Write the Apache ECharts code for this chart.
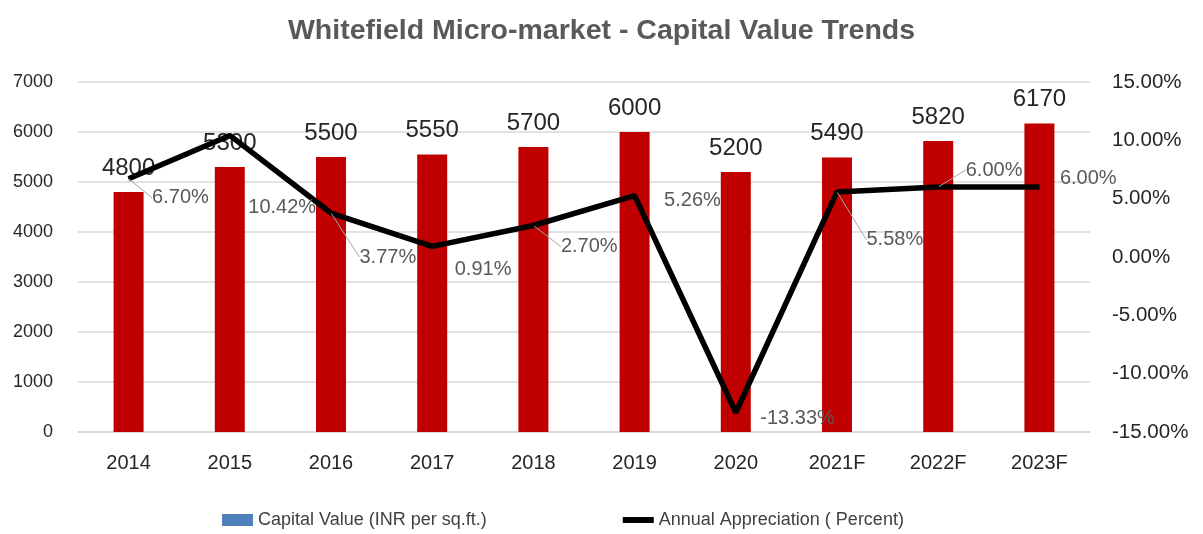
<!DOCTYPE html>
<html>
<head>
<meta charset="utf-8">
<script src="https://cdn.jsdelivr.net/npm/echarts@6/dist/echarts.min.js"></script>
<style>
  html, body { margin: 0; padding: 0; background: #fff; }
  #chart { width: 1203px; height: 534px; }
</style>
</head>
<body>
<div id="chart"></div>
<script>
// chart data
var years = ['2014', '2015', '2016', '2017', '2018', '2019', '2020', '2021F', '2022F', '2023F'];
var capitalValue = [4800, 5300, 5500, 5550, 5700, 6000, 5200, 5490, 5820, 6170];
var appreciation = [6.70, 10.42, 3.77, 0.91, 2.70, 5.26, -13.33, 5.58, 6.00, 6.00];

// where each % label sits relative to its point (dx, dy), and whether a leader line shows
var labelShift = [[18, 19], [13, 72], [23, 44], [17, 23], [22, 21], [24, 5], [19, 6], [24, 48], [22, -17], [15, -9]];
var leader = [true, false, true, false, true, false, false, true, true, false];

var lineData = appreciation.map(function (v, i) {
  return { value: v, labelLine: { show: leader[i] } };
});

var myChart = echarts.init(document.getElementById('chart'));
var font = '"Liberation Sans", Arial, sans-serif';

myChart.setOption({
  animation: false,
  title: {
    text: 'Whitefield Micro-market - Capital Value Trends',
    left: 'center',
    top: 12,
    textStyle: { color: '#595959', fontSize: 28.5, fontWeight: 'bold', fontFamily: font }
  },
  legend: {
    bottom: 0,
    left: 217,
    itemGap: 136,
    itemWidth: 31,
    itemHeight: 12,
    textStyle: { color: '#404040', fontSize: 18, fontFamily: font },
    data: [
      { name: 'Capital Value (INR per sq.ft.)', icon: 'rect', itemStyle: { color: '#4f81bd' } },
      { name: 'Annual Appreciation ( Percent)', icon: 'path://M0,0 H31 V6 H0 Z', itemStyle: { color: '#000' } }
    ]
  },
  grid: { left: 78, right: 113, top: 82, bottom: 102 },
  xAxis: {
    type: 'category',
    data: years,
    axisTick: { show: false },
    axisLine: { lineStyle: { color: '#d9d9d9', width: 1.5 } },
    axisLabel: { color: '#262626', fontSize: 20, fontFamily: font, margin: 21 }
  },
  yAxis: [
    {
      type: 'value',
      min: 0, max: 7000, interval: 1000,
      axisLine: { show: false },
      axisTick: { show: false },
      splitLine: { lineStyle: { color: '#d9d9d9', width: 1.5 } },
      axisLabel: {
        color: '#262626', fontSize: 18, fontFamily: font, margin: 25,
        formatter: function (v) { return String(v); }
      }
    },
    {
      type: 'value',
      min: -15, max: 15, interval: 5,
      axisLine: { show: false },
      axisTick: { show: false },
      splitLine: { show: false },
      axisLabel: {
        color: '#262626', fontSize: 20.5, fontFamily: font, margin: 22,
        formatter: function (v) { return v.toFixed(2) + '%'; }
      }
    }
  ],
  series: [
    {
      name: 'Capital Value (INR per sq.ft.)',
      type: 'bar',
      data: capitalValue,
      barWidth: 30,
      itemStyle: { color: '#c00000' },
      label: {
        show: true,
        position: 'top',
        distance: 12,
        color: '#262626',
        fontSize: 24,
        fontFamily: font
      }
    },
    {
      name: 'Annual Appreciation ( Percent)',
      type: 'line',
      yAxisIndex: 1,
      data: lineData,
      symbol: 'circle',
      symbolSize: 1,
      showSymbol: true,
      lineStyle: { color: '#000', width: 5.5 },
      itemStyle: { color: '#000' },
      label: {
        show: true,
        position: 'right',
        distance: 5,
        color: '#595959',
        fontSize: 20,
        fontFamily: font,
        formatter: function (p) { return p.value.toFixed(2) + '%'; }
      },
      labelLine: { show: true, lineStyle: { color: '#a6a6a6', width: 1 } },
      labelLayout: function (p) {
        var s = labelShift[p.dataIndex];
        return { dx: s[0], dy: s[1] };
      }
    }
  ]
});
window.addEventListener('resize', function () {
  myChart.resize();
});
</script>
</body>
</html>
